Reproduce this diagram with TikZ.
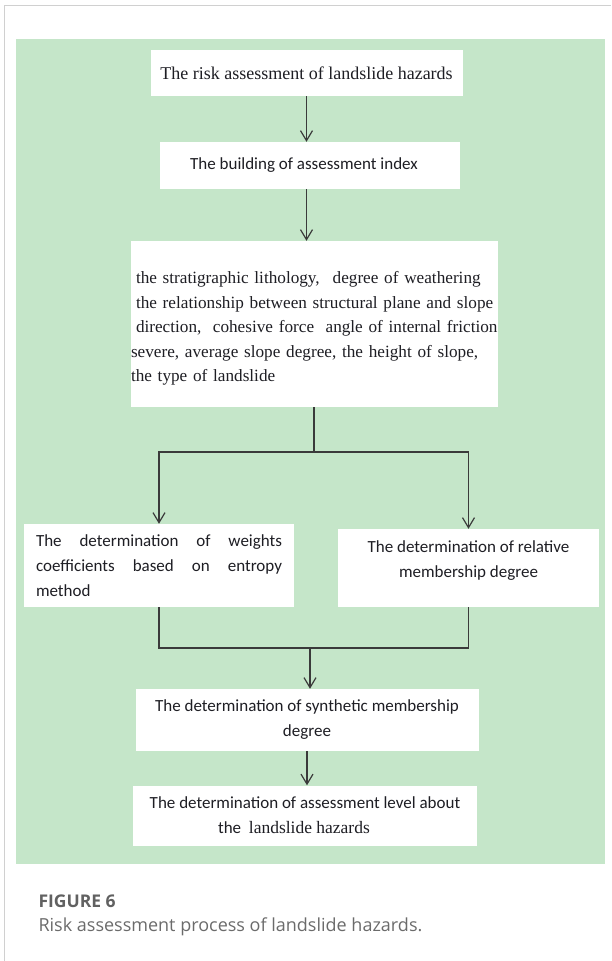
\documentclass[tikz,border=0pt]{standalone}
\usepackage{fontspec}
\setmainfont{Liberation Serif}
\newfontfamily\calibri{Carlito}
\newfontfamily\capfont{Open Sans}
\usetikzlibrary{arrows.meta}

\tolerance=10000
\hyphenpenalty=10000

\definecolor{panelgreen}{HTML}{C5E6C9}
\definecolor{cardgray}{HTML}{D0D0D0}
\definecolor{linegray}{HTML}{3A3A3A}
\definecolor{inkgray}{HTML}{1E1E24}

\tikzset{
  box/.style = {fill = white, inner sep = 0pt, text = inkgray},
  serif/.style = {font = \fontsize{17.2}{24.5}\selectfont},
  sans/.style = {font = \calibri\fontsize{17}{25}\selectfont},
  flow/.style = {draw = linegray, line width = 1.2pt,
    -{Straight Barb[length=10pt,width=12pt]}},
  link/.style = {draw = linegray, line width = 1.2pt}
}

\begin{document}
\begin{tikzpicture}[x=1pt, y=-1pt]

    \useasboundingbox (0,0) rectangle (611,961);

    % card and panel
    \draw[cardgray, line width = 1.5pt] (4.5,961) -- (4.5,5.5) -- (611,5.5);
    \fill[panelgreen] (15.5,39) rectangle (605,864);


    \node[box, serif,
    font = \fontsize{18}{24}\selectfont,
    minimum width = 312pt,
    minimum height = 46pt] (risk) at (306.5,73)
    {The risk assessment of landslide hazards};

    \node[box, sans,
    minimum width = 300pt,
    minimum height = 47pt] (index) at (310,165.5)
    {The building of assessment index\hspace*{12pt}};

    \node[box, serif,
    align = left,
    text width = 367pt,
    minimum width = 367pt,
    minimum height = 166pt] (factors) at (314.5,324)
    {\rule{0pt}{21pt}\hspace*{5pt}the stratigraphic lithology,\hspace{0.75em}degree of weathering\\
     \hspace*{5pt}the relationship between structural plane and slope\\
     \hspace*{5pt}direction,\ \ cohesive force\ \ angle of internal friction\\
     severe, average slope degree, the height of slope,\\
     the type of landslide};

    \node[box, sans,
    align = justify,
    text width = 246pt,
    minimum width = 270pt,
    minimum height = 83pt] (weights) at (159,565.5)
    {The determination of weights coefficients based on entropy method};

    \node[box, sans,
    align = center,
    minimum width = 261pt,
    minimum height = 78pt] (member) at (468.5,568)
    {The determination of relative\\membership degree\rule[-17pt]{0pt}{0pt}};

    \node[box, sans,
    align = center,
    minimum width = 343pt,
    minimum height = 62pt] (synth) at (307,720)
    {The determination of synthetic membership\\degree};

    \node[box, sans,
    align = center,
    minimum width = 344pt,
    minimum height = 60pt] (level) at (305,815.5)
    {The determination of assessment level about\\
     the\ \ {\rmfamily\fontsize{17.5}{25}\selectfont landslide hazards}\hspace*{22pt}};


    \coordinate (split) at (314,452);
    \coordinate (join) at (310,648);

    \draw[flow] (risk) -- (risk |- index.north);
    \draw[flow] (index.south -| risk) -- (factors.north -| risk);

    \draw[link] (factors.south -| split) -- (split);
    \draw[flow] (split) -| (weights.north);
    \draw[flow] (split) -| (member.north);

    \draw[link] (weights.south) |- (join);
    \draw[link] (member.south) |- (join);
    \draw[flow] (join) -- (join |- synth.north);

    \draw[flow] (synth) -- (synth |- level.north);


    % caption
    \node[anchor = base west, text = black!62,
    font = \capfont\bfseries\fontsize{17.5}{20}\selectfont] (figno) at (35,907)
    {FIGURE 6};
    \node[anchor = base west, text = black!58,
    font = \capfont\fontsize{18}{20}\selectfont] (figcap) at (35,931)
    {Risk assessment process of landslide hazards.};

\end{tikzpicture}
\end{document}
